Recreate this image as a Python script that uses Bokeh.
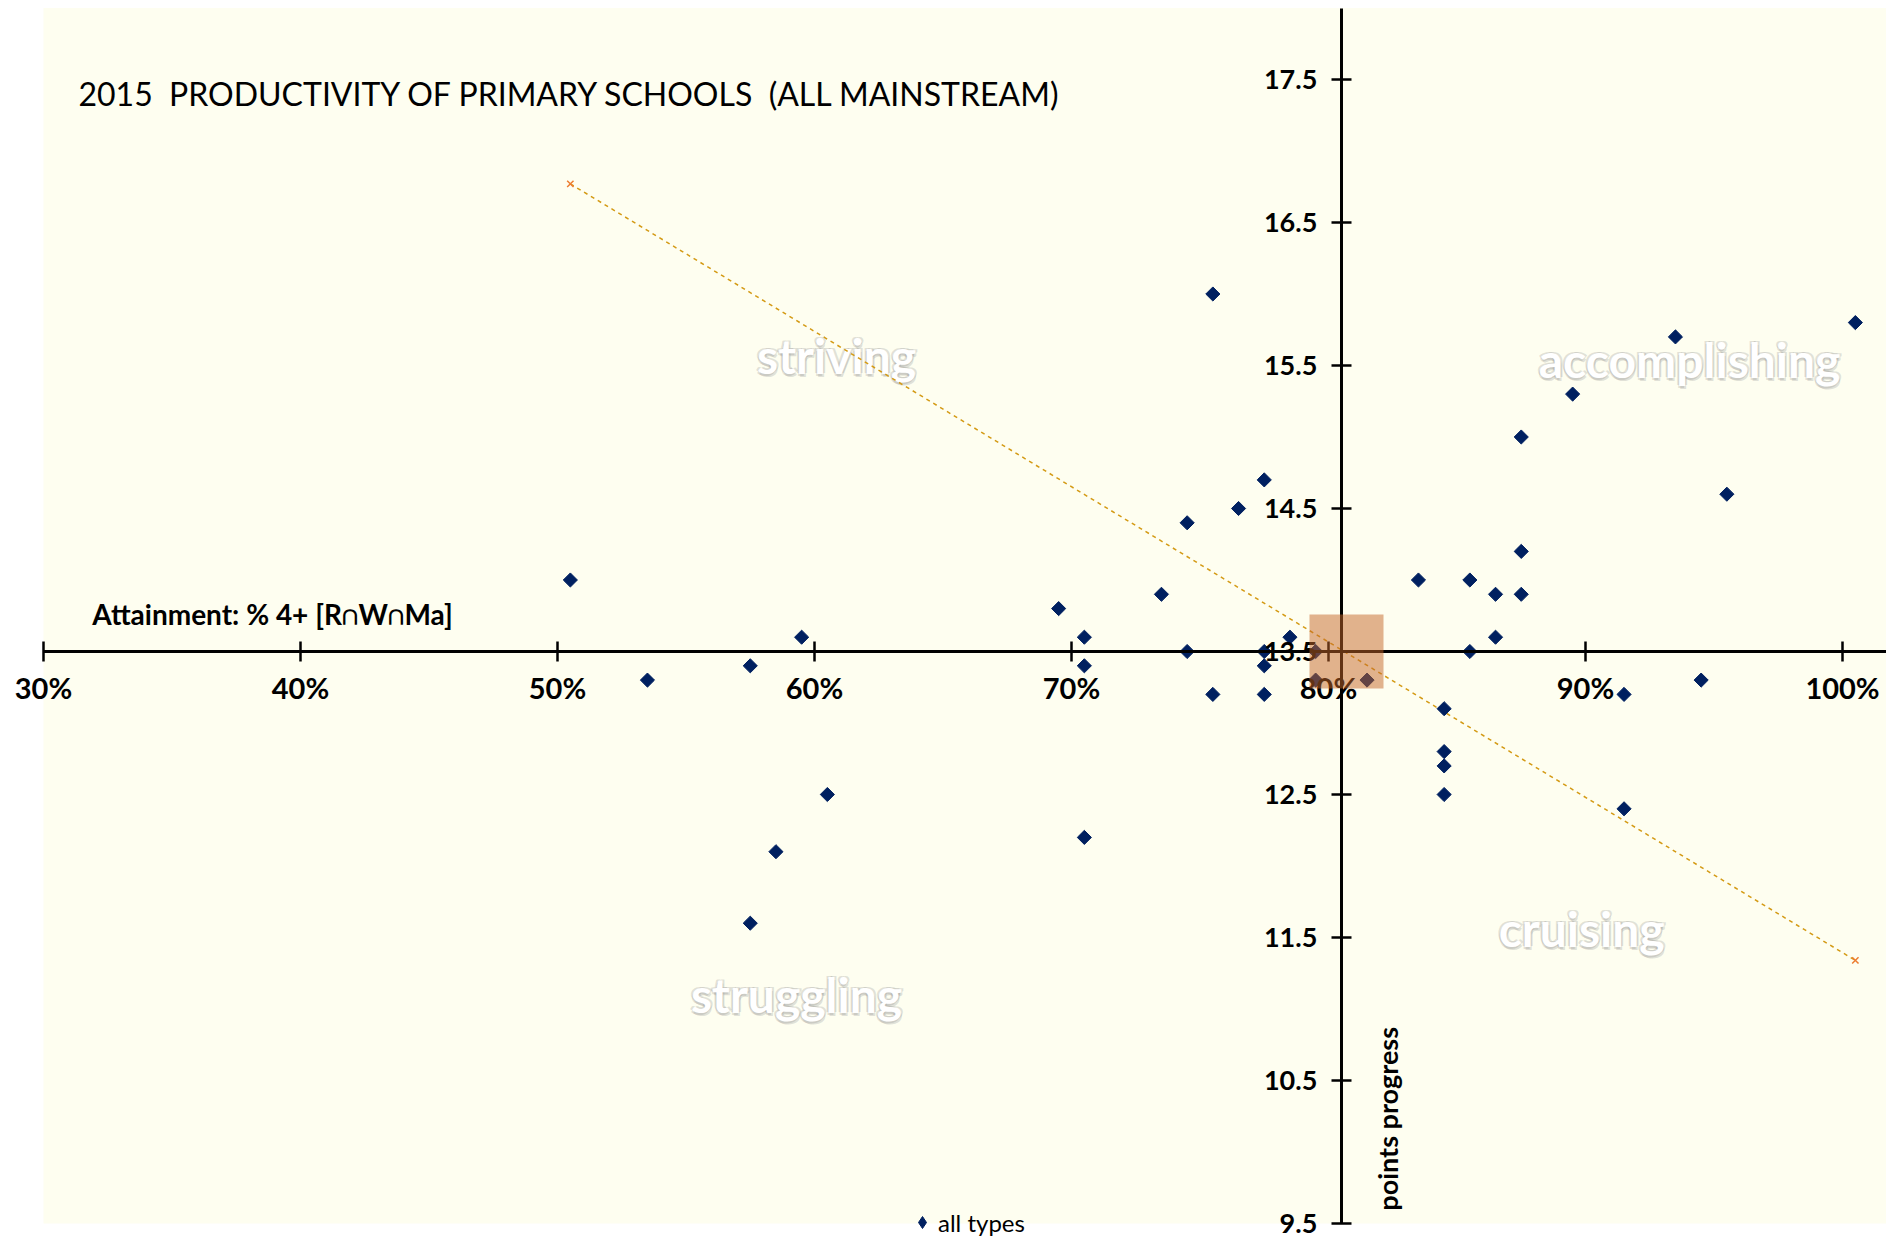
from bokeh.plotting import figure
from bokeh.models import (LinearAxis, FixedTicker, NumeralTickFormatter, Range1d,
                          Legend, LegendItem, ColumnDataSource, BoxAnnotation)
from bokeh.core.properties import value
from bokeh.embed import file_html
from bokeh.resources import INLINE
import math

# ---------------- data ----------------
attainment = [0.505, 0.535, 0.575, 0.595, 0.605, 0.585, 0.575, 0.695, 0.705, 0.705,
              0.705, 0.735, 0.745, 0.745, 0.755, 0.755, 0.765, 0.775, 0.775, 0.775,
              0.775, 0.785, 0.795, 0.795, 0.815, 0.835, 0.845, 0.845, 0.845, 0.845,
              0.855, 0.855, 0.865, 0.865, 0.875, 0.875, 0.875, 0.895, 0.915, 0.915,
              0.935, 0.945, 0.955, 1.005]
progress = [14.0, 13.3, 13.4, 13.6, 12.5, 12.1, 11.6, 13.8, 13.6, 13.4,
            12.2, 13.9, 14.4, 13.5, 16.0, 13.2, 14.5, 14.7, 13.5, 13.4,
            13.2, 13.6, 13.5, 13.3, 13.3, 14.0, 13.1, 12.8, 12.7, 12.5,
            14.0, 13.5, 13.9, 13.6, 15.0, 14.2, 13.9, 15.3, 13.2, 12.4,
            15.7, 13.3, 14.6, 15.8]

average_x = [0.807]
average_y = [13.5]

trend_x = [0.505, 1.005]
trend_y = [16.77, 11.34]

x_ticks = [0.3, 0.4, 0.5, 0.6, 0.7, 0.8, 0.9, 1.0]
y_ticks = [9.5, 10.5, 11.5, 12.5, 13.5, 14.5, 15.5, 16.5, 17.5]
x_min, y_min, y_max = 0.30, 9.5, 18.0
x_cross, y_cross = 0.805, 13.5

quadrant_names = ["striving", "accomplishing", "cruising", "struggling"]
quadrant_x = [0.6086, 0.9405, 0.8985, 0.593]
quadrant_y = [15.57, 15.54, 11.56, 11.10]

title_text = "2015 \u00a0PRODUCTIVITY OF PRIMARY SCHOOLS \u00a0(ALL MAINSTREAM)"
x_title = "Attainment: % 4+ [R\u2229W\u2229Ma]"
y_title = "points progress"
series_name = "all types"

FONT = "Lato"
CREAM = "#FEFEF0"
NAVY = "#002060"

# frame covers the whole canvas; the plot area is drawn as a box
PX_X = 2570.0   # pixels per unit of attainment
PX_Y = 143.0    # pixels per point of progress
W, H = 1886, 1246
LEFT, BOTTOM = 43, 1223
x_start = x_min - LEFT / PX_X
x_end = x_min + (W - LEFT) / PX_X
y_start = y_min - (H - BOTTOM) / PX_Y
y_end = y_min + BOTTOM / PX_Y

p = figure(width=W, height=H, output_backend="svg", toolbar_location=None,
           x_range=Range1d(x_start, x_end), y_range=Range1d(y_start, y_end),
           x_axis_location=None, y_axis_location=None,
           min_border_left=0, min_border_right=0, min_border_top=0, min_border_bottom=0,
           background_fill_color="white", border_fill_color="white", outline_line_color=None)
p.xgrid.visible = False
p.ygrid.visible = False

p.add_layout(BoxAnnotation(left=x_min, bottom=y_min, top=y_max, fill_color=CREAM,
                           fill_alpha=1, line_color=None, level="underlay"))

# crossing axes
xaxis = LinearAxis(fixed_location=y_cross, ticker=FixedTicker(ticks=x_ticks),
                   formatter=NumeralTickFormatter(format="0%"), bounds=(x_min, x_end))
yaxis = LinearAxis(fixed_location=x_cross, ticker=FixedTicker(ticks=y_ticks),
                   formatter=NumeralTickFormatter(format="0.0"), bounds=(y_min, y_max))
for ax in (xaxis, yaxis):
    ax.axis_line_width = 3
    ax.axis_line_color = "black"
    ax.major_tick_in = 10
    ax.major_tick_out = 10
    ax.major_tick_line_width = 2.5
    ax.major_tick_line_color = "black"
    ax.minor_tick_line_color = None
    ax.major_label_text_font = FONT
    ax.major_label_text_font_style = "bold"
    ax.major_label_text_color = "black"
xaxis.major_label_text_font_size = "29px"
yaxis.major_label_text_font_size = "27px"
xaxis.major_label_standoff = 8
yaxis.major_label_standoff = 14
p.add_layout(xaxis, "below")
p.add_layout(yaxis, "left")

# quadrant labels: soft grey glow + white text
qsrc = ColumnDataSource(dict(x=quadrant_x, y=quadrant_y, t=quadrant_names))
for dx, dy in [(-2, -1), (2, -1), (-1, 2), (1, 3)]:
    p.text(x="x", y="y", text="t", source=qsrc, x_offset=dx, y_offset=dy,
           text_font=value(FONT), text_font_style="bold", text_font_size="48px",
           text_color="#8C8C8C", text_alpha=0.25, text_align="center", text_baseline="middle")
p.text(x="x", y="y", text="t", source=qsrc,
       text_font=value(FONT), text_font_style="bold", text_font_size="48px",
       text_color="white", text_align="center", text_baseline="middle")

# trend line with x markers
p.line(trend_x, trend_y, line_color="#D49A14", line_width=1.5, line_dash="4 4")
p.scatter(trend_x, trend_y, marker="x", size=9, line_color="#ED7D31", line_width=1.5)

# legend swatch: a diamond drawn (hidden) under the first school's marker
r_key = p.scatter(attainment[:1], progress[:1], marker="diamond", size=11,
                  fill_color=NAVY, line_color=NAVY)
# schools
r_pts = p.scatter(attainment, progress, marker="square", angle=math.pi / 4, size=10,
                  fill_color=NAVY, line_color=NAVY)

# average marker (large translucent square) on top
r_avg = p.scatter(average_x, average_y, marker="square", size=74,
                  fill_color="#C46628", fill_alpha=0.5, line_color=None)
r_avg.level = "overlay"

# texts
p.text(x=[0.3136], y=[17.40], text=[title_text], text_font=value(FONT),
       text_font_size="32px", text_color="black", text_align="left", text_baseline="middle")
p.text(x=[0.319], y=[13.76], text=[x_title], text_font=value(FONT), text_font_style="bold",
       text_font_size="28px", text_color="black", text_align="left", text_baseline="middle")
p.text(x=[0.823], y=[9.59], text=[y_title], text_font=value(FONT), text_font_style="bold",
       text_font_size="27px", text_color="black", text_align="left", text_baseline="middle",
       angle=math.pi / 2)

legend = Legend(items=[LegendItem(label=series_name, renderers=[r_key])],
                location=(907, 9), background_fill_alpha=0, border_line_color=None,
                label_text_font=FONT, label_text_font_size="24px", label_text_color="black",
                glyph_width=30, glyph_height=30, padding=0, margin=0, label_standoff=1,
                spacing=0)
p.add_layout(legend)

open("out.html", "w").write(file_html(p, INLINE))
